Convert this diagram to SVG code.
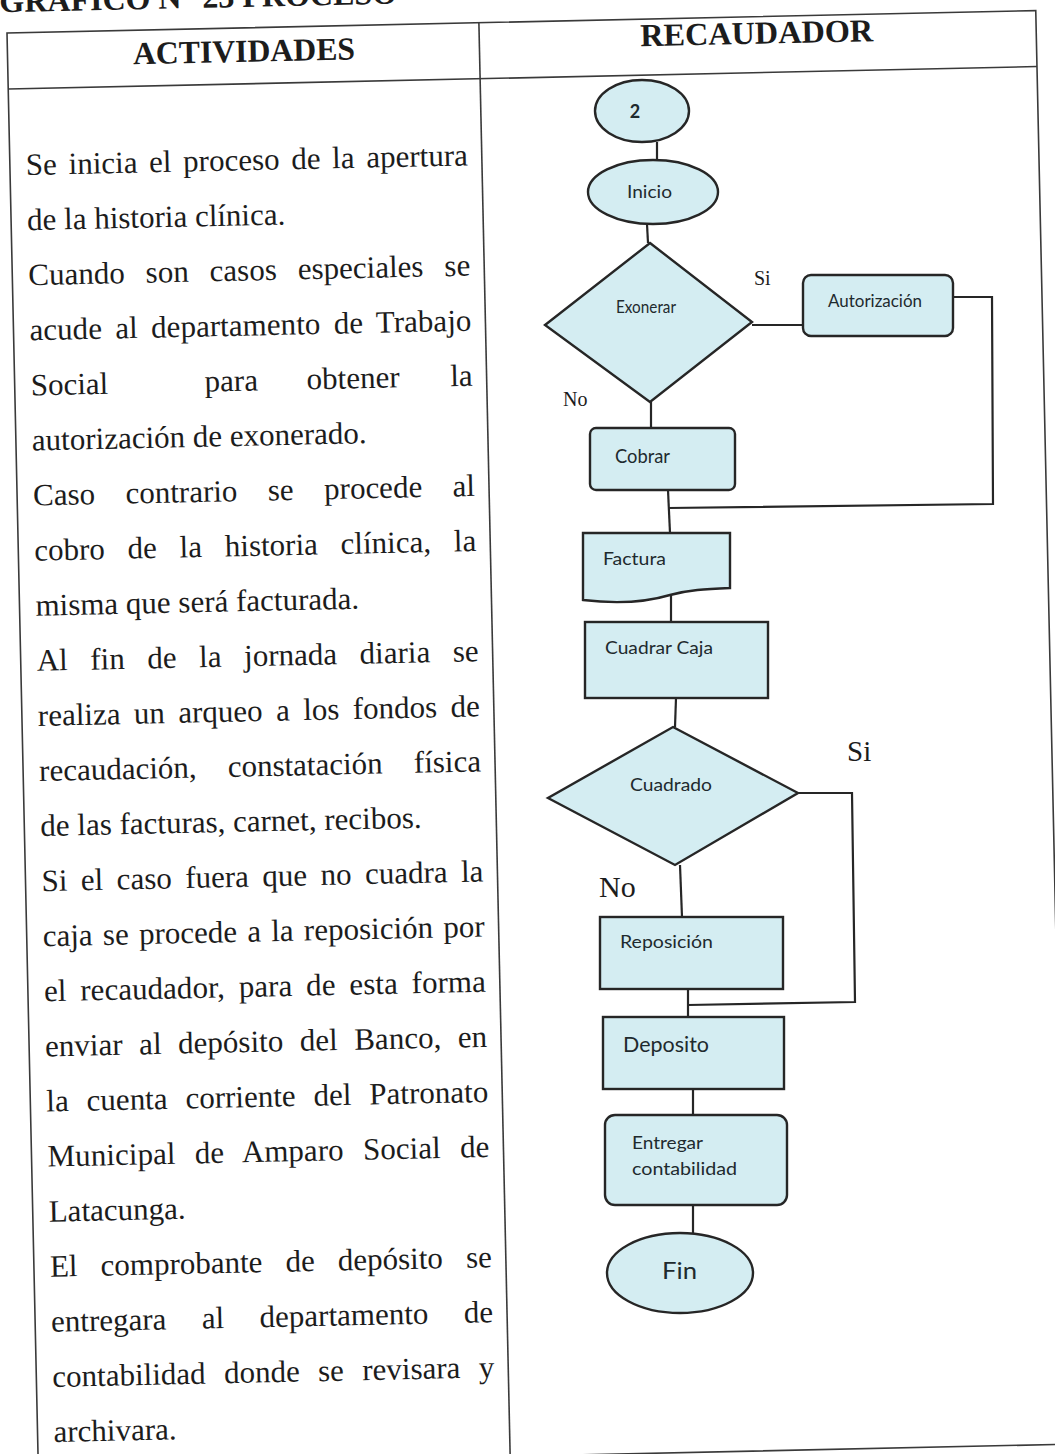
<svg xmlns="http://www.w3.org/2000/svg" width="1055" height="1454" viewBox="0 0 1055 1454">
<style>
.tb{fill:none;stroke:#3a3a3a;stroke-width:1.6}
.body{font-family:"Liberation Serif","Times New Roman",serif;font-size:31px;fill:#1c1c1c}
.hd{font-family:"Liberation Serif","Times New Roman",serif;font-weight:bold;font-size:32px;fill:#1c1c1c}
.sh{fill:#d4edf2;stroke:#262626;stroke-width:2.4}
.lb{font-family:Lato,"Open Sans",sans-serif;fill:#1e2a2e}
.cn{fill:none;stroke:#262626;stroke-width:2.2}
.yn{font-family:"Liberation Serif","Times New Roman",serif;fill:#1c1c1c}
</style>
<rect width="1055" height="1454" fill="#ffffff"/>
<g id="page" transform="rotate(-1.25 8 33)">
  <text id="title" class="hd" x="0" y="12" font-size="30">GRÁFICO N° 23  PROCESO</text>
  <g id="table">
    <rect class="tb" x="7" y="33" width="1029" height="1434"/>
    <line class="tb" x1="7" y1="89" x2="1036" y2="89"/>
    <line class="tb" x1="479" y1="33" x2="479" y2="1467"/>
    <text class="hd" x="132.5" y="67" textLength="222" lengthAdjust="spacingAndGlyphs">ACTIVIDADES</text>
    <text class="hd" x="640" y="60" textLength="233" lengthAdjust="spacingAndGlyphs">RECAUDADOR</text>
  </g>
  <g id="activities" class="body">
    <text x="23" y="175.4" word-spacing="3.9" textLength="442" lengthAdjust="spacing">Se inicia el proceso de la apertura</text>
    <text x="23" y="230.5">de la historia clínica.</text>
    <text x="23" y="285.6" word-spacing="13.2" textLength="442" lengthAdjust="spacing">Cuando son casos especiales se</text>
    <text x="23" y="340.7" word-spacing="5.5" textLength="442" lengthAdjust="spacing">acude al departamento de Trabajo</text>
    <text y="395.8"><tspan x="23">Social</tspan><tspan x="197">para</tspan><tspan x="299">obtener</tspan><tspan x="442.6">la</tspan></text>
    <text x="23" y="450.9">autorización de exonerado.</text>
    <text x="23" y="506" word-spacing="22.7" textLength="442" lengthAdjust="spacing">Caso contrario se procede al</text>
    <text x="23" y="561.1" word-spacing="15" textLength="442" lengthAdjust="spacing">cobro de la historia clínica, la</text>
    <text x="23" y="616.2">misma que será facturada.</text>
    <text x="23" y="671.3" word-spacing="14.8" textLength="442" lengthAdjust="spacing">Al fin de la jornada diaria se</text>
    <text x="23" y="726.4" word-spacing="5.7" textLength="442" lengthAdjust="spacing">realiza un arqueo a los fondos de</text>
    <text x="23" y="781.5" word-spacing="23.5" textLength="442" lengthAdjust="spacing">recaudación, constatación física</text>
    <text x="23" y="836.6">de las facturas, carnet, recibos.</text>
    <text x="23" y="891.7" word-spacing="5.7" textLength="442" lengthAdjust="spacing">Si el caso fuera que no cuadra la</text>
    <text x="23" y="946.8" word-spacing="2.5" textLength="442" lengthAdjust="spacing">caja se procede a la reposición por</text>
    <text x="23" y="1001.9" word-spacing="6.1" textLength="442" lengthAdjust="spacing">el recaudador, para de esta forma</text>
    <text x="23" y="1057" word-spacing="8.8" textLength="442" lengthAdjust="spacing">enviar al depósito del Banco, en</text>
    <text x="23" y="1112.1" word-spacing="10.2" textLength="442" lengthAdjust="spacing">la cuenta corriente del Patronato</text>
    <text x="23" y="1167.2" word-spacing="11.5" textLength="442" lengthAdjust="spacing">Municipal de Amparo Social de</text>
    <text x="23" y="1222.3">Latacunga.</text>
    <text x="23" y="1277.4" word-spacing="15.4" textLength="442" lengthAdjust="spacing">El comprobante de depósito se</text>
    <text x="23" y="1332.5" word-spacing="27.7" textLength="442" lengthAdjust="spacing">entregara al departamento de</text>
    <text x="23" y="1387.6" word-spacing="10.6" textLength="442" lengthAdjust="spacing">contabilidad donde se revisara y</text>
    <text x="23" y="1442.7">archivara.</text>
  </g>
</g>
<g id="connectors">
  <line class="cn" x1="657" y1="142" x2="657" y2="160"/>
  <line class="cn" x1="647" y1="224" x2="648" y2="243"/>
  <line class="cn" x1="752" y1="325" x2="803" y2="325"/>
  <polyline class="cn" points="953,297 992,297 993,504 668,508"/>
  <line class="cn" x1="651" y1="402" x2="651" y2="428"/>
  <line class="cn" x1="668" y1="490" x2="670" y2="533"/>
  <line class="cn" x1="671" y1="595" x2="671" y2="622"/>
  <line class="cn" x1="676" y1="698" x2="675" y2="727"/>
  <polyline class="cn" points="798,793 852,793 855,1002 688,1005"/>
  <line class="cn" x1="680" y1="865" x2="682" y2="917"/>
  <line class="cn" x1="688" y1="989" x2="688" y2="1017"/>
  <line class="cn" x1="693" y1="1089" x2="693" y2="1115"/>
  <line class="cn" x1="693" y1="1205" x2="693" y2="1233"/>
</g>
<g id="labels">
  <text class="yn" x="754" y="285" font-size="20">Si</text>
  <text class="yn" x="563" y="406" font-size="20">No</text>
  <text class="yn" x="847" y="761" font-size="29">Si</text>
  <text class="yn" x="599" y="897" font-size="30">No</text>
</g>
<g id="n-2">
  <ellipse class="sh" cx="642" cy="111" rx="47" ry="31"/>
  <text class="lb" x="635" y="118" font-size="18" font-weight="bold" text-anchor="middle">2</text>
</g>
<g id="n-inicio">
  <ellipse class="sh" cx="653" cy="192" rx="65" ry="32"/>
  <text class="lb" x="627" y="198" font-size="18" textLength="45" lengthAdjust="spacingAndGlyphs">Inicio</text>
</g>
<g id="n-exonerar">
  <polygon class="sh" points="650,243 752,322 650,402 545,325"/>
  <text class="lb" x="616" y="313" font-size="17" textLength="60" lengthAdjust="spacingAndGlyphs">Exonerar</text>
</g>
<g id="n-autorizacion">
  <rect class="sh" x="803" y="275" width="150" height="61" rx="8"/>
  <text class="lb" x="828" y="307" font-size="17" textLength="94" lengthAdjust="spacingAndGlyphs">Autorización</text>
</g>
<g id="n-cobrar">
  <rect class="sh" x="590" y="428" width="145" height="62" rx="6"/>
  <text class="lb" x="615" y="463" font-size="20" textLength="55" lengthAdjust="spacingAndGlyphs">Cobrar</text>
</g>
<g id="n-factura">
  <path class="sh" d="M583,533 H730 V588 C705,589 688,590 670,595 C650,601 625,605 583,600 Z"/>
  <text class="lb" x="603" y="565" font-size="18" textLength="63" lengthAdjust="spacingAndGlyphs">Factura</text>
</g>
<g id="n-cuadrar">
  <rect class="sh" x="585" y="622" width="183" height="76"/>
  <text class="lb" x="605" y="654" font-size="18" textLength="108" lengthAdjust="spacingAndGlyphs">Cuadrar Caja</text>
</g>
<g id="n-cuadrado">
  <polygon class="sh" points="673,727 798,793 675,865 548,798"/>
  <text class="lb" x="630" y="791" font-size="18" textLength="82" lengthAdjust="spacingAndGlyphs">Cuadrado</text>
</g>
<g id="n-reposicion">
  <rect class="sh" x="600" y="917" width="183" height="72"/>
  <text class="lb" x="620" y="948" font-size="18" textLength="93" lengthAdjust="spacingAndGlyphs">Reposición</text>
</g>
<g id="n-deposito">
  <rect class="sh" x="603" y="1017" width="181" height="72"/>
  <text class="lb" x="623" y="1052" font-size="22" textLength="86" lengthAdjust="spacingAndGlyphs">Deposito</text>
</g>
<g id="n-entregar">
  <rect class="sh" x="605" y="1115" width="182" height="90" rx="10"/>
  <text class="lb" x="632" y="1149" font-size="18" textLength="71" lengthAdjust="spacingAndGlyphs">Entregar</text>
  <text class="lb" x="632" y="1175" font-size="18" textLength="105" lengthAdjust="spacingAndGlyphs">contabilidad</text>
</g>
<g id="n-fin">
  <ellipse class="sh" cx="680" cy="1273" rx="73" ry="40"/>
  <text class="lb" x="662" y="1279" font-size="24" textLength="35" lengthAdjust="spacingAndGlyphs">Fin</text>
</g>
</svg>
